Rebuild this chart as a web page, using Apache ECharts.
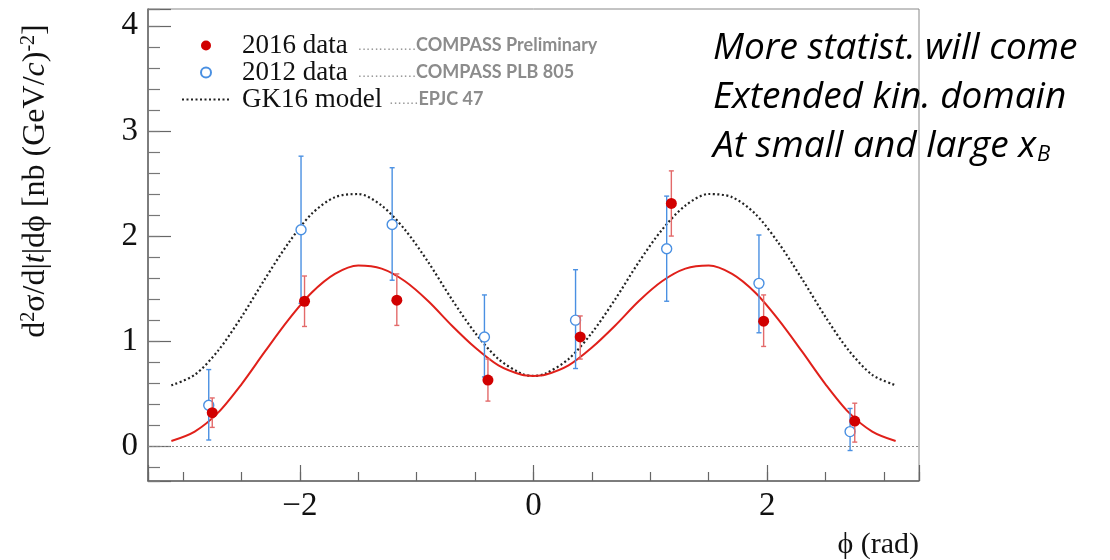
<!DOCTYPE html>
<html><head><meta charset="utf-8">
<script src="https://cdn.jsdelivr.net/npm/echarts@6/dist/echarts.min.js"></script>
<style>html,body{margin:0;padding:0;background:#fff}#c{width:1110px;height:560px}</style>
</head><body><div id="c"></div>
<script>
// ---- data ----
const xTickValues = [-2, 0, 2];
const xTickLabels = ['\u22122', '0', '2'];
const yTickValues = [0, 1, 2, 3, 4];
const yTickLabels = ['0', '1', '2', '3', '4'];

const phi2016 = [-2.75, -1.96, -1.17, -0.39, 0.40, 1.18, 1.97, 2.75];
const val2016 = [0.32, 1.38, 1.39, 0.63, 1.04, 2.31, 1.19, 0.24];
const lo2016  = [0.18, 1.14, 1.15, 0.43, 0.83, 2.00, 0.95, 0.04];
const hi2016  = [0.46, 1.62, 1.64, 0.83, 1.24, 2.62, 1.44, 0.41];

const phi2012 = [-2.78, -1.99, -1.21, -0.42, 0.36, 1.14, 1.93, 2.71];
const val2012 = [0.39, 2.06, 2.11, 1.04, 1.20, 1.88, 1.55, 0.14];
const lo2012  = [0.06, 1.36, 1.58, 0.66, 0.74, 1.38, 1.08, -0.04];
const hi2012  = [0.73, 2.76, 2.65, 1.44, 1.68, 2.38, 2.01, 0.36];

const phiCurve = [-3.1, -2.9, -2.7, -2.5, -2.3, -2.1, -1.9, -1.7, -1.5, -1.3, -1.1, -0.9, -0.7, -0.5, -0.3, -0.1, 0,
                  0.1, 0.3, 0.5, 0.7, 0.9, 1.1, 1.3, 1.5, 1.7, 1.9, 2.1, 2.3, 2.5, 2.7, 2.9, 3.1];
const gk16Model = [0.58, 0.68, 0.91, 1.23, 1.59, 1.93, 2.21, 2.37, 2.40, 2.29, 2.06, 1.75, 1.40, 1.08, 0.83, 0.69, 0.67,
                   0.69, 0.83, 1.08, 1.40, 1.75, 2.06, 2.29, 2.40, 2.37, 2.21, 1.93, 1.59, 1.23, 0.91, 0.68, 0.58];
const fit2016 = [0.05, 0.14, 0.32, 0.59, 0.90, 1.20, 1.46, 1.64, 1.72, 1.69, 1.57, 1.38, 1.15, 0.94, 0.77, 0.68, 0.67,
                 0.68, 0.77, 0.94, 1.15, 1.38, 1.57, 1.69, 1.72, 1.64, 1.46, 1.20, 0.90, 0.59, 0.32, 0.14, 0.05];

// ---- chart ----
const RED = '#d10000', RED_ERR = '#e36a6a', BLUE = '#4a90e2';
const SERIF = '"Liberation Serif", "DejaVu Serif", serif';

function errSeries(name, xs, lo, hi, color, capW, lw, z) {
  return {
    type: 'custom', name: name, xAxisIndex: 0, yAxisIndex: 0, silent: true, z: z,
    data: xs.map((x, i) => [x, lo[i], hi[i]]),
    encode: { x: 0, y: [1, 2] },
    renderItem: function (params, api) {
      const x = api.value(0);
      const p1 = api.coord([x, api.value(1)]);
      const p2 = api.coord([x, api.value(2)]);
      const st = { stroke: color, lineWidth: lw };
      return { type: 'group', children: [
        { type: 'line', shape: { x1: p1[0], y1: p1[1], x2: p2[0], y2: p2[1] }, style: st },
        { type: 'line', shape: { x1: p1[0] - capW, y1: p1[1], x2: p1[0] + capW, y2: p1[1] }, style: st },
        { type: 'line', shape: { x1: p2[0] - capW, y1: p2[1], x2: p2[0] + capW, y2: p2[1] }, style: st }
      ] };
    }
  };
}

const labelFrom = (vals, labs) => v => { const i = vals.indexOf(v); return i >= 0 ? labs[i] : ''; };

const option = {
  animation: false,
  backgroundColor: '#fff',
  grid: { left: 148, right: 191, top: 9, bottom: 79, show: true, borderColor: '#888', borderWidth: 1, containLabel: false },
  xAxis: [
    { type: 'value', min: -3.3, max: 3.3, splitNumber: 3, position: 'bottom',
      axisLine: { onZero: false, lineStyle: { color: '#666', width: 1.5 } },
      axisTick: { inside: true, length: 16, lineStyle: { color: '#666', width: 1.2 } },
      splitLine: { show: false },
      axisLabel: { formatter: labelFrom(xTickValues, xTickLabels), fontFamily: SERIF, fontSize: 33, color: '#111', margin: 9 } },
    { type: 'value', min: -3.3, max: 3.3, splitNumber: 13, position: 'bottom',
      axisLine: { show: false, onZero: false },
      axisTick: { inside: true, length: 9, lineStyle: { color: '#666', width: 1.2 } },
      splitLine: { show: false }, axisLabel: { show: false } }
  ],
  yAxis: [
    { type: 'value', min: -0.33, max: 4.16, position: 'left',
      axisLine: { show: true, onZero: false, lineStyle: { color: '#666', width: 1.5 } },
      axisTick: { inside: true, length: 23, lineStyle: { color: '#666', width: 1.2 } },
      splitLine: { show: false },
      axisLabel: { formatter: labelFrom(yTickValues, yTickLabels), fontFamily: SERIF, fontSize: 33, color: '#111', margin: 10 } },
    { type: 'value', min: -0.33, max: 4.16, splitNumber: 22, position: 'left',
      axisLine: { show: false, onZero: false },
      axisTick: { inside: true, length: 12, lineStyle: { color: '#777', width: 1.2 } },
      splitLine: { show: false }, axisLabel: { show: false } }
  ],
  legend: {
    orient: 'vertical', left: 176, top: 27, itemWidth: 48, itemHeight: 10, itemGap: 0,
    selectedMode: false,
    data: ['2016 data', '2012 data', { name: 'GK16 model', itemStyle: { opacity: 0 } }],
    formatter: function (name) {
      if (name === '2016 data') return '{a|2016 data}{d|..............}{c|COMPASS Preliminary}';
      if (name === '2012 data') return '{a|2012 data}{d|..............}{c|COMPASS PLB 805}';
      return '{a|GK16 model}{e|.......}{c|EPJC 47}';
    },
    textStyle: {
      rich: {
        a: { fontFamily: SERIF, fontSize: 27, color: '#111', lineHeight: 28.5, padding: [0, 0, 0, 7], verticalAlign: 'middle' },
        d: { fontFamily: '"Liberation Sans"', fontSize: 15, color: '#9a9a9a', lineHeight: 28.5, padding: [0, 0, 0, 10], verticalAlign: 'middle' },
        e: { fontFamily: '"Liberation Sans"', fontSize: 15, color: '#9a9a9a', lineHeight: 28.5, padding: [0, 0, 0, 7], verticalAlign: 'middle' },
        c: { fontFamily: 'Lato', fontWeight: 'bold', fontSize: 18, color: '#8c8c8c', lineHeight: 28.5, verticalAlign: 'middle' }
      }
    }
  },
  graphic: [
    { type: 'text', x: 36, y: 181, rotation: Math.PI / 2, z: 10,
      style: { text: 'd{sup|2}σ/d|{it|t}|dϕ [nb (GeV/{it|c}){sup|-2}]',
        font: '32px ' + SERIF, fill: '#111', align: 'center', verticalAlign: 'middle',
        rich: { sup: { fontFamily: SERIF, fontSize: 20, padding: [0, 0, 14, 0] },
                it: { fontFamily: SERIF, fontStyle: 'italic', fontSize: 32 } } } },
    { type: 'text', x: 919, y: 545, z: 10,
      style: { text: 'ϕ (rad)', font: '30px ' + SERIF, fill: '#111', align: 'right', verticalAlign: 'middle' } },
    { type: 'text', x: 713, y: 24, z: 10,
      style: { text: '{t|More statist. will come}\n{t|Extended kin. domain}\n{t|At small and large x}{s|B}',
        align: 'left', verticalAlign: 'top', fill: '#000',
        rich: { t: { fontFamily: '"Open Sans"', fontStyle: 'italic', fontSize: 37, lineHeight: 49, fill: '#000' },
                s: { fontFamily: '"Open Sans"', fontStyle: 'italic', fontSize: 22, lineHeight: 49, padding: [17, 0, 0, 1], fill: '#000' } } } }
  ],
  series: [
    { type: 'line', name: 'GK16 model', xAxisIndex: 0, yAxisIndex: 0, smooth: 0.3, symbol: 'none', showSymbol: false, z: 2,
      data: phiCurve.map((x, i) => [x, gk16Model[i]]),
      lineStyle: { color: '#222', width: 2.2, type: [2, 2.5] }, itemStyle: { color: '#222' },
      markLine: { silent: true, symbol: ['none', 'none'], label: { show: false },
        lineStyle: { color: '#888', width: 1, type: [2, 2] }, data: [{ yAxis: 0 }] } },
    { type: 'line', name: 'fit 2016', xAxisIndex: 0, yAxisIndex: 0, smooth: 0.3, symbol: 'none', z: 2,
      data: phiCurve.map((x, i) => [x, fit2016[i]]),
      lineStyle: { color: '#e0201a', width: 2 } },
    errSeries('2012 err', phi2012, lo2012, hi2012, BLUE, 2.5, 1.4, 3),
    { type: 'scatter', name: '2012 data', xAxisIndex: 0, yAxisIndex: 0, symbol: 'circle', symbolSize: 10, z: 4,
      data: phi2012.map((x, i) => [x, val2012[i]]),
      itemStyle: { color: '#fff', borderColor: BLUE, borderWidth: 1.4, opacity: 1 } },
    errSeries('2016 err', phi2016, lo2016, hi2016, RED_ERR, 2.5, 1.4, 5),
    { type: 'scatter', name: '2016 data', xAxisIndex: 0, yAxisIndex: 0, symbol: 'circle', symbolSize: 11, z: 6,
      data: phi2016.map((x, i) => [x, val2016[i]]),
      itemStyle: { color: RED, opacity: 1 } }
  ]
};
echarts.init(document.getElementById('c')).setOption(option);
</script>
</body></html>
